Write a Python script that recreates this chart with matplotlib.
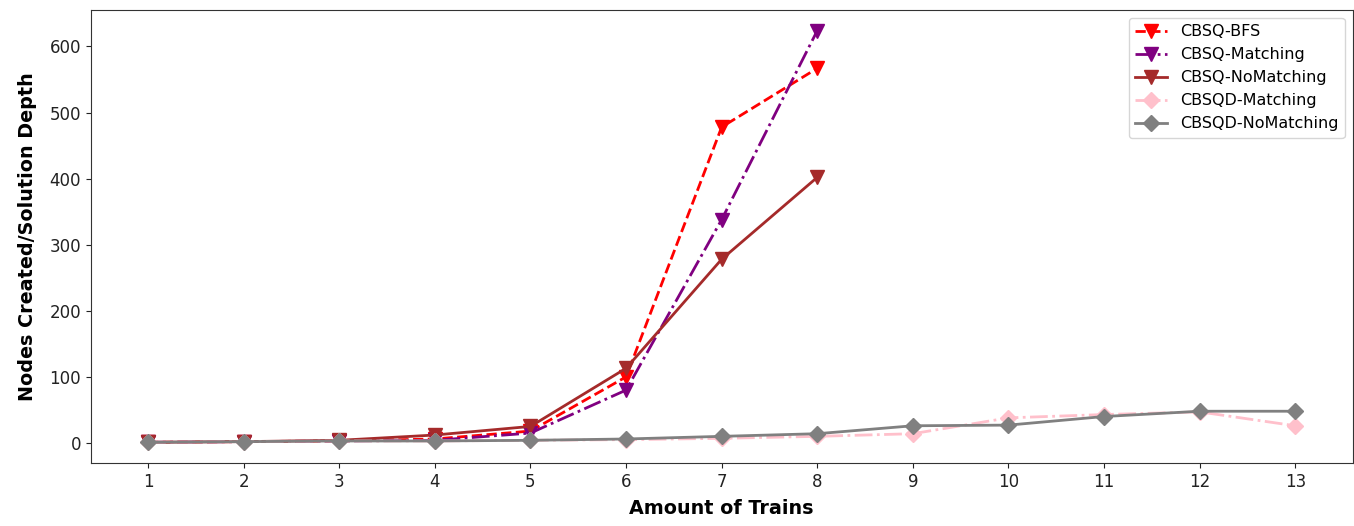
import matplotlib
matplotlib.use("Agg")
import matplotlib.pyplot as plt

# datos
trenes_cbsq = [1, 2, 3, 4, 5, 6, 7, 8]
trenes_cbsqd = [1, 2, 3, 4, 5, 6, 7, 8, 9, 10, 11, 12, 13]

cbsq_bfs = [1, 2, 3, 6, 18, 100, 478, 567]
cbsq_matching = [1, 2, 3, 4, 15, 80, 338, 624]
cbsq_nomatching = [1, 2, 4, 12, 25, 113, 278, 402]
cbsqd_matching = [1, 2, 3, 3, 4, 5, 7, 10, 14, 38, 43, 47, 26]
cbsqd_nomatching = [1, 2, 3, 3, 4, 6, 10, 14, 26, 27, 40, 48, 48]

fig, ax = plt.subplots(figsize=(13.54, 5.26), dpi=100)

ax.plot(trenes_cbsq, cbsq_bfs, color='red', linestyle='--', marker='v',
        markersize=10, linewidth=2, label='CBSQ-BFS')
ax.plot(trenes_cbsq, cbsq_matching, color='purple', linestyle='-.', marker='v',
        markersize=10, linewidth=2, label='CBSQ-Matching')
ax.plot(trenes_cbsq, cbsq_nomatching, color='brown', linestyle='-', marker='v',
        markersize=10, linewidth=2, label='CBSQ-NoMatching')
ax.plot(trenes_cbsqd, cbsqd_matching, color='pink', linestyle='-.', marker='D',
        markersize=8, linewidth=2, label='CBSQD-Matching')
ax.plot(trenes_cbsqd, cbsqd_nomatching, color='gray', linestyle='-', marker='D',
        markersize=8, linewidth=2, label='CBSQD-NoMatching')

ax.set_xticks(trenes_cbsqd)
ax.tick_params(labelsize=12, colors='#222222')
for s in ax.spines.values():
    s.set_color('#333333')
ax.set_xlabel('Amount of Trains', fontsize=13.8, fontweight='bold', labelpad=6)
ax.set_ylabel('Nodes Created/Solution Depth', fontsize=13.8, fontweight='bold', labelpad=9)
ax.legend(loc='upper right', fontsize=11.5)

fig.subplots_adjust(left=0.067, right=0.999, top=0.981, bottom=0.12)
fig.savefig('out.png')
